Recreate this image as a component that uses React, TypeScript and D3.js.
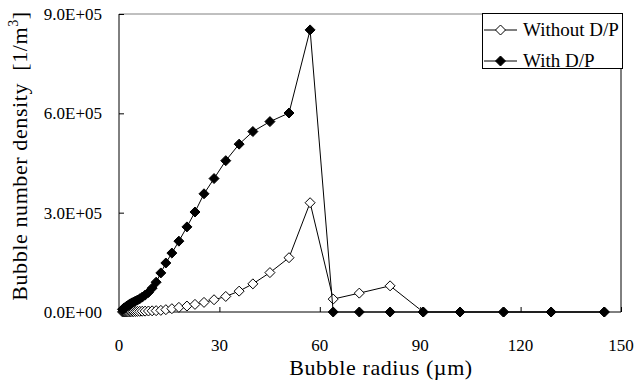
import { useEffect, useRef } from "react"
import * as d3 from "d3"

// bubble radius (µm), shared by both series
const radius = [
  1.05, 1.2, 1.35, 1.5, 1.7, 1.9, 2.15, 2.4, 2.7, 3.05, 3.45, 3.9, 4.35, 4.9, 5.5, 6.2, 6.95, 7.8, 8.8, 9.9,
  11.1, 12.5, 14.0, 15.8, 17.9, 20.3, 22.7, 25.4, 28.4, 31.9, 35.9, 40.0, 45.1, 50.8, 57.1, 64.0, 71.8, 81.0,
  90.9, 101.9, 114.9, 129.1, 145.0,
]

const withoutDP = [
  200, 250, 300, 350, 400, 500, 600, 700, 800, 900, 1000, 1200, 1400, 1600, 1800, 2000, 2300, 2600, 3000, 3500,
  4000, 5000, 7000, 10000, 14000, 18000, 23000, 29000, 37000, 47000, 63000, 85000, 119000, 164000, 330000,
  39000, 57000, 79000, 0, 0, 0, 0, 0,
]

const withDP = [
  8000, 9000, 10000, 11000, 12500, 14000, 16000, 18000, 20000, 22500, 25000, 27500, 30000, 33000, 36000, 40000,
  45000, 51000, 59000, 72000, 90000, 118000, 148000, 178000, 214000, 257000, 302000, 357000, 403000, 457000,
  507000, 545000, 575000, 601000, 852000, 0, 0, 0, 0, 0, 0, 0, 0,
]

const xTicks = [0, 30, 60, 90, 120, 150]
const yTicks = [0, 300000, 600000, 900000]
const seriesNames = ["Without D/P", "With D/P"]

const fmtY = (v: number) => {
  if (v === 0) return "0.0E+00"
  const [m, e] = v.toExponential(1).split("e")
  const n = Math.abs(+e)
  return `${m}E${+e < 0 ? "-" : "+"}${n < 10 ? "0" + n : n}`
}

const diamond = (r: number) => `M0,${-r}L${r},0L0,${r}L${-r},0Z`

export default function App() {
  const svgRef = useRef<SVGSVGElement>(null)

  useEffect(() => {
    if (!svgRef.current) return
    const svg = d3.select(svgRef.current)
    svg.selectAll("*").remove()

    const font = "'Liberation Serif', 'Times New Roman', serif"
    const x = d3.scaleLinear().domain([0, 150]).range([119, 621])
    const y = d3.scaleLinear().domain([0, 900000]).range([312, 14])

    svg.append("rect").attr("width", 635).attr("height", 381).attr("fill", "#fff")

    // рамка области построения
    svg
      .append("line")
      .attr("x1", x(0)).attr("x2", x(150)).attr("y1", y(900000)).attr("y2", y(900000))
      .attr("stroke", "#808080")
    svg
      .append("line")
      .attr("x1", x(150)).attr("x2", x(150)).attr("y1", y(900000)).attr("y2", y(0))
      .attr("stroke", "#000")

    // оси
    const gx = svg.append("g").attr("transform", `translate(0,${y(0)})`)
    gx.call(d3.axisBottom(x).tickValues(xTicks).tickSize(-5).tickFormat(() => ""))
    gx.select(".domain").attr("stroke", "#000").attr("d", `M${x(0)},0H${x(150)}`)
    gx.selectAll(".tick line").attr("stroke", "#000")

    const gy = svg.append("g").attr("transform", `translate(${x(0)},0)`)
    gy.call(d3.axisLeft(y).tickValues(yTicks).tickSize(-5).tickFormat(() => ""))
    gy.select(".domain").attr("stroke", "#000").attr("d", `M0,${y(900000)}V${y(0)}`)
    gy.selectAll(".tick line").attr("stroke", "#000")

    // подписи делений
    svg
      .selectAll(".xl")
      .data(xTicks)
      .enter()
      .append("text")
      .attr("x", (d) => x(d))
      .attr("y", 351)
      .attr("text-anchor", "middle")
      .attr("font-family", font)
      .attr("font-size", 17)
      .text((d) => d)

    svg
      .selectAll(".yl")
      .data(yTicks)
      .enter()
      .append("text")
      .attr("x", 102)
      .attr("y", (d) => y(d) + 6)
      .attr("text-anchor", "end")
      .attr("font-family", font)
      .attr("font-size", 17)
      .text((d) => fmtY(d))

    // названия осей
    svg
      .append("text")
      .attr("x", 381)
      .attr("y", 375)
      .attr("text-anchor", "middle")
      .attr("font-family", font)
      .attr("font-size", 22)
      .attr("letter-spacing", 0.6)
      .text("Bubble radius (µm)")

    const yt = svg
      .append("text")
      .attr("transform", `translate(27,${156}) rotate(-90)`)
      .attr("text-anchor", "middle")
      .attr("font-family", font)
      .attr("font-size", 22)
      .attr("letter-spacing", 0.6)
      .style("white-space", "pre")
    yt.append("tspan").text("Bubble number density  [1/m")
    yt.append("tspan").attr("font-size", 14).attr("dy", -9).text("3")
    yt.append("tspan").attr("dy", 9).text("]")

    // серии
    const line = d3
      .line<number>()
      .x((_, i) => x(radius[i]))
      .y((d) => y(d))

    const series = [
      { values: withoutDP, fill: "#fff" },
      { values: withDP, fill: "#000" },
    ]

    series.forEach((s) => {
      svg
        .append("path")
        .datum(s.values)
        .attr("fill", "none")
        .attr("stroke", "#000")
        .attr("stroke-width", 1)
        .attr("d", line)

      svg
        .append("g")
        .selectAll("path")
        .data(s.values)
        .enter()
        .append("path")
        .attr("transform", (d, i) => `translate(${x(radius[i])},${y(d)})`)
        .attr("d", diamond(5))
        .attr("fill", s.fill)
        .attr("stroke", "#000")
        .attr("stroke-width", 1)
    })

    // легенда
    const legend = svg.append("g")
    legend
      .append("rect")
      .attr("x", 482.5)
      .attr("y", 13.5)
      .attr("width", 140)
      .attr("height", 55)
      .attr("fill", "#fff")
      .attr("stroke", "#000")

    seriesNames.forEach((name, i) => {
      const ly = 30 + i * 31
      legend
        .append("line")
        .attr("x1", 484).attr("x2", 517).attr("y1", ly).attr("y2", ly)
        .attr("stroke", "#000")
      legend
        .append("path")
        .attr("transform", `translate(500.5,${ly})`)
        .attr("d", diamond(5))
        .attr("fill", series[i].fill)
        .attr("stroke", "#000")
      legend
        .append("text")
        .attr("x", 523)
        .attr("y", ly + 6)
        .attr("font-family", font)
        .attr("font-size", 19)
        .text(name)
    })
  }, [])

  return (
    <svg
      ref={svgRef}
      width={635}
      height={381}
      style={{ position: "absolute", left: 0, top: 0 }}
    />
  )
}
